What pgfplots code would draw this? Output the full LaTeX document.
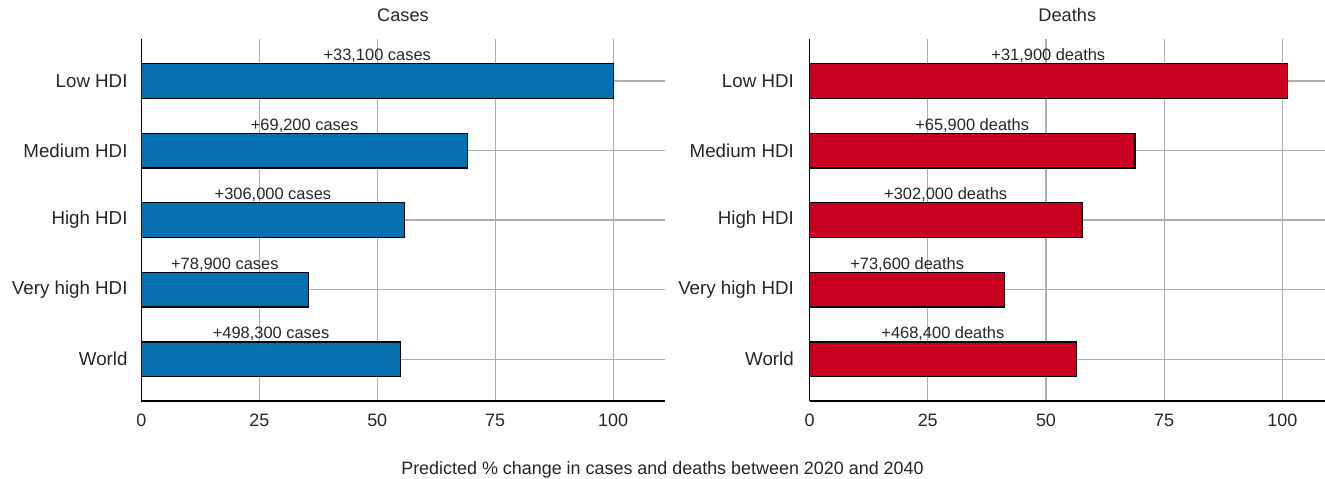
\documentclass[border=0pt]{standalone}
\usepackage{pgfplots}
\usepackage{pgfplotstable}
\pgfplotsset{compat=1.18}
\usepackage{fontspec}
\setmainfont{Liberation Sans}
\definecolor{barblue}{HTML}{0770B0}
\definecolor{barred}{HTML}{CA0020}
\definecolor{gridgray}{HTML}{ADADAD}
\definecolor{txt}{HTML}{262626}

\pgfplotstableread[col sep=semicolon]{
pos;value;label
4;100.0;+33,100 cases
3;69.2;+69,200 cases
2;55.8;+306,000 cases
1;35.4;+78,900 cases
0;55.0;+498,300 cases
}\cases

\pgfplotstableread[col sep=semicolon]{
pos;value;label
4;101.0;+31,900 deaths
3;68.8;+65,900 deaths
2;57.6;+302,000 deaths
1;41.3;+73,600 deaths
0;56.4;+468,400 deaths
}\deaths

\pgfplotsset{
  panel/.style={
    scale only axis,
    height=361.7bp,
    anchor=south west,
    xmin=0, ymin=-0.6, ymax=4.6,
    axis x line=bottom, axis y line=left,
    axis line style={black, line width=1.3bp, -},
    xtick={0,25,50,75,100},
    ytick={0,1,2,3,4},
    yticklabels={World, Very high HDI, High HDI, Medium HDI, Low HDI},
    major tick length=0pt,
    xmajorgrids, ymajorgrids,
    grid style={gridgray, line width=1.3bp},
    /pgf/number format/assume math mode=true,
    tick label style={text=txt, inner sep=0pt},
    xticklabel style={font=\fontsize{18}{21}\selectfont},
    yticklabel style={font=\fontsize{18.8}{22}\selectfont},
    xticklabel shift=13bp,
    title style={font=\fontsize{18.3}{21}\selectfont, text=txt, at={(0.5,1)}, anchor=base, yshift=12bp},
  },
  barlab/.style={
    draw=none, mark=none,
    nodes near coords,
    point meta=explicit symbolic,
    nodes near coords align={anchor=base},
    every node near coord/.append style={font=\fontsize{16.5}{19}\selectfont, text=txt, inner sep=0pt, yshift=20.5bp},
  },
}

\begin{document}
\begin{tikzpicture}
\path[use as bounding box] (0,0) rectangle (1325bp,479bp);
\begin{axis}[panel, at={(141.3bp,78bp)}, width=523.3bp, xmax=110.9, yticklabel shift=13.6bp, title={Cases}]
  \addplot[xbar, bar width=0.5, fill=barblue, draw=black, line width=1.3bp] table[x=value, y=pos] {\cases};
  \addplot[barlab] table[x expr=\thisrow{value}/2, y=pos, meta=label] {\cases};
\end{axis}
\begin{axis}[panel, at={(809.5bp,78bp)}, width=515.5bp, xmax=109, yticklabel shift=15.5bp, title={Deaths}]
  \addplot[xbar, bar width=0.5, fill=barred, draw=black, line width=1.3bp] table[x=value, y=pos] {\deaths};
  \addplot[barlab] table[x expr=\thisrow{value}/2, y=pos, meta=label] {\deaths};
\end{axis}
\node[anchor=base, font=\fontsize{18}{21}\selectfont, text=txt, inner sep=0pt] at (662.5bp,5bp) {Predicted \% change in cases and deaths between 2020 and 2040};
\end{tikzpicture}
\end{document}
